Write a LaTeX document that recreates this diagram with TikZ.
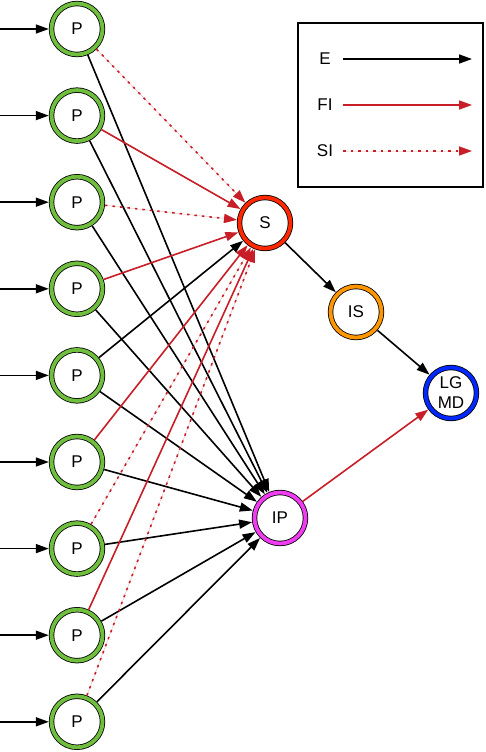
\documentclass[tikz,border=0pt]{standalone}
\usepackage{fontspec}
\setmainfont{Liberation Sans}
\usetikzlibrary{arrows.meta}
\definecolor{pgreen}{RGB}{112,190,62}
\definecolor{sred}{RGB}{255,40,0}
\definecolor{ipmag}{RGB}{240,60,240}
\definecolor{isorange}{RGB}{255,150,0}
\definecolor{lgblue}{RGB}{0,40,255}
\definecolor{inhred}{RGB}{200,30,40}

\begin{document}
\begin{tikzpicture}[x=1pt, y=-1pt,
    neuron/.style={circle, draw=black, line width=0.8pt, double distance=3.8pt,
        minimum size=51pt, inner sep=0pt, outer sep=2.7pt,
        font=\fontsize{17}{20}\selectfont, align=center},
    exc/.style={-{Triangle[length=13pt,width=9pt]}, line width=1.6pt},
    finh/.style={exc, draw=inhred, fill=inhred},
    sinh/.style={finh, dash pattern=on 2.5pt off 5pt}]
    \useasboundingbox (0,0) rectangle (486,752);
    % neurons
    \node[neuron, double=sred] (s) at (265,223) {S};
    \node[neuron, double=ipmag] (ip) at (280,518) {IP};
    \node[neuron, double=isorange] (is) at (356,312) {IS};
    \node[neuron, double=lgblue] (lgmd) at (451,393) {LG\\MD};
    \foreach \i in {1,...,9} {
        \node[neuron, double=pgreen] (p\i) at (77,{29+86.6*(\i-1)}) {P};
        \coordinate (in\i) at (0,{29+86.6*(\i-1)});
        \draw[exc] (in\i) -- (p\i);
    }
    % P -> IP
    \foreach \i in {1,...,9}
        \draw[exc] (p\i) -- (ip);
    % P -> S
    \foreach \i/\t in {1/sinh,2/finh,3/sinh,4/finh,5/exc,6/finh,7/sinh,8/finh,9/sinh}
        \draw[\t] (p\i) -- (s);
    \draw[exc] (s) -- (is);
    \draw[exc] (is) -- (lgmd);
    \draw[finh] (ip) -- (lgmd);
    % legend
    \node[draw, line width=2pt, minimum width=185pt, minimum height=164pt,
        inner sep=0pt] (legend) at (390.5,105) {};
    \foreach \t/\n/\y in {exc/E/59,finh/FI/105,sinh/SI/151} {
        \node[font=\fontsize{17}{20}\selectfont] (l\n) at (325,\y) {\n};
        \coordinate (a\n) at (343,\y);
        \coordinate (b\n) at (472,\y);
        \draw[\t] (a\n) -- (b\n);
    }
\end{tikzpicture}
\end{document}
